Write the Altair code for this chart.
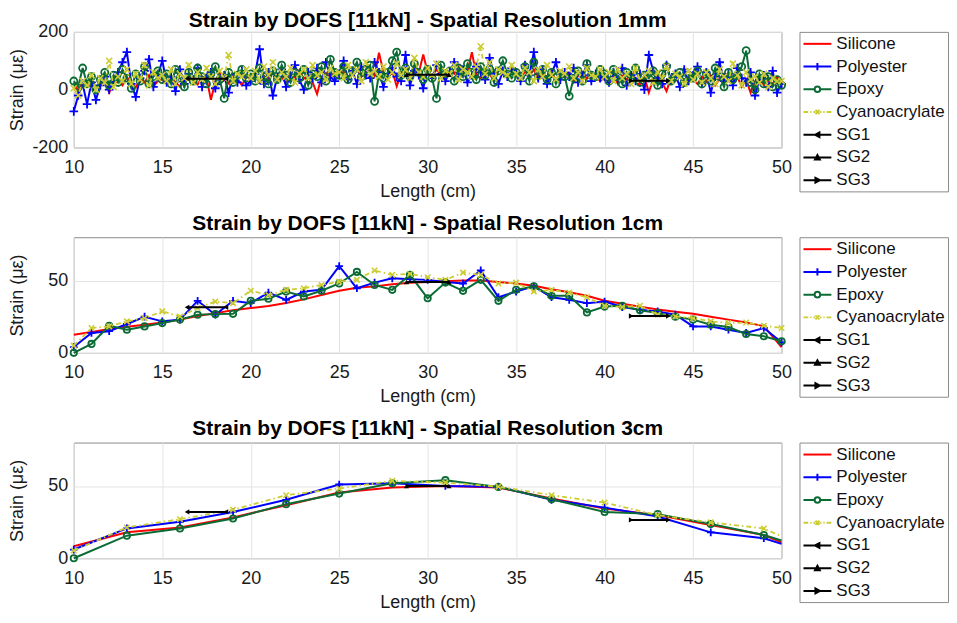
import altair as alt
import pandas as pd

FONT = "Liberation Sans"
SERIES = ["Silicone", "Polyester", "Epoxy", "Cyanoacrylate", "SG1", "SG2", "SG3"]
RED, BLUE, GREEN, YELLOW, BLACK = "#ff0000", "#0000ff", "#0b6b35", "#cccc33", "#000000"
COLORS = [RED, BLUE, GREEN, YELLOW, BLACK, BLACK, BLACK]

# ---------------- 1 mm panel (values read every 2.5 mm) ----------------
len_1mm = [round(10 + 0.25 * i, 2) for i in range(161)]
sil_1mm = [25, -5, 30, 12, 40, 5, 18, 35, -10, 22, 30, 15, 45, 20, 8, 38, 25, 50, 12, 30,
           35, 20, 48, 25, 10, 40, 55, 30, 18, 45, 42, -35, 28, 60, 35, 22, 50, 38, 15, 45,
           40, 55, 25, 48, 35, 62, 30, 45, 20, 55, 42, 68, 38, 50, 25, -15, 45, 58, 40, 62,
           50, 62, 40, 58, 70, 45, 55, 75, 48, 128, 60, 42, 66, 12, 55, 62, 50, 72, 58, 122,
           60, 45, 70, 52, 38, 65, 55, 80, 48, 62, 130, 50, 40, 68, 55, 30, 72, 58, 45, 62,
           55, 40, 62, 48, 70, 35, 52, 45, 65, 30, 50, 42, 58, 25, 48, 60, 38, 52, 45, 30,
           42, 28, 55, 20, 48, 35, 60, 30, 15, 45, -10, 38, 52, 25, -5, 40, 30, 55, 22, 38,
           35, 20, 45, 28, 50, 15, 38, 55, 30, 22, 45, 10, 35, -10, 28, 40, 15, 32, 20, 45,
           25]
pol_1mm = [-75, -20, 20, -50, 25, -35, 15, 45, 0, 30, 60, 95, 130, 20, -25, 40, 65, 105, 10, 50,
           100, 25, 45, -5, 70, 20, 55, 35, 75, 10, 40, 60, 5, 30, 50, -10, 45, 25, 65, 15,
           30, 55, 140, 20, 60, -20, 45, 70, 10, 50, 85, 35, 0, 60, 40, 75, 25, 95, 45, 30,
           55, 100, 35, 65, 20, 80, 50, 40, 95, 60, 10, 55, 75, 45, 30, 120, 15, 65, 50, 5,
           70, 40, 85, 55, 30, 60, 95, 45, 70, 25, 50, 80, 60, 35, 110, 55, 20, 65, 45, 75,
           60, 30, 85, 50, 130, 40, 70, 20, 55, 95, 35, 60, 45, 75, 25, 50, 85, 30, 55, 40,
           45, 25, 60, 35, 75, 15, 50, 30, 55, 0, 120, 65, 40, 20, 85, 35, 55, 10, 70, 30,
           50, 80, 20, 60, -10, 45, 95, 30, 55, 15, 75, 40, 25, 60, -20, 35, 50, 10, 65, -10,
           20]
epo_1mm = [30, 10, 75, 20, 45, 0, 35, 60, 15, 50, 25, 70, 40, 5, 55, 30, 80, 20, 45, 65,
           35, 55, 20, 70, 40, 10, 60, 30, 75, 45, 20, 55, 80, 35, -30, 60, 25, 50, 70, 40,
           55, 30, 75, 45, 20, 65, 35, 85, 50, 25, 60, 40, 70, 15, 55, 45, 80, 30, 105, 60,
           50, 80, 35, 65, 95, 45, 70, 85, -40, 55, 40, 60, 100, 130, 50, 75, 45, 90, 60, 35,
           70, 40, -30, 85, 55, 65, 30, 75, 45, 90, 60, 35, 80, 50, 70, 25, 65, 100, 55, 40,
           60, 45, 80, 30, 95, 50, 70, 35, 60, 20, 55, 45, -22, 40, 65, 30, 90, 50, 45, 70,
           55, 30, 70, 45, 20, 60, 35, 75, 25, 50, 40, 65, 15, 55, 80, 30, 45, 60, 25, 50,
           40, 65, 20, 55, 30, 75, 45, 10, 60, 35, 50, 80, 135, 25, 0, 55, 20, 45, 10, 35,
           15]
cya_1mm = [5, -20, 30, 15, 50, 0, 40, 25, 100, 10, 45, 30, 70, 20, 55, 35, 85, 15, 60, 40,
           50, 30, 70, 20, 55, 40, 85, 25, 60, 35, 75, 45, 20, 65, 40, 120, 30, 55, 45, 70,
           40, 65, 30, 80, 50, 95, 35, 60, 45, 75, 25, 55, 70, 40, 85, 50, 60, 35, 75, 55,
           60, 40, 85, 50, 70, 30, 95, 55, 65, 45, 80, 35, 60, 90, 50, 70, 40, 110, 60, 45,
           75, 50, 90, 40, 65, 55, 85, 35, 70, 60, 45, 80, 150, 55, 95, 40, 70, 60, 50, 85,
           55, 40, 75, 60, 30, 70, 45, 85, 50, 35, 65, 55, 80, 40, 60, 30, 75, 50, 45, 70,
           45, 60, 30, 70, 40, 55, 20, 75, 35, 50, 65, 25, 60, 40, 80, 30, 55, 45, 20, 65,
           35, 55, 25, 60, 40, 20, 70, 45, 30, 90, 50, 15, 60, 35, 45, 25, 55, 10, 40, 30,
           30]

# ---------------- 1 cm panel ----------------
len_1cm = list(range(10, 51))
sil_1cm = [12.5, 14.5, 16.5, 18, 19.5, 21, 23, 25.5, 27.5, 29.5, 31,
           32.5, 34.5, 37, 40, 43, 45, 46, 47.5, 48.5, 49,
           49.5, 50, 50, 49, 48, 46.5, 44, 42, 39.5, 36,
           34, 32, 30, 28.5, 27, 25, 23, 21, 18.5, 4]
pol_1cm = [4, 13.8, 15, 20, 25, 21.8, 23, 36, 26.4, 36, 34.4,
           41.7, 36.7, 42.4, 43.6, 60, 44.7, 48.6, 51.6, 51, 50.5,
           49, 48, 57, 38.5, 42.4, 46, 38.5, 36.7, 34.4, 35.5,
           31.7, 29.8, 28.7, 26.4, 18.3, 18.3, 16, 13.8, 17.2, 7.3]
epo_1cm = [0, 6.2, 18.8, 16, 18.3, 20.6, 23, 26.4, 26.8, 27, 36,
           37.4, 42.4, 39, 43, 48, 56, 47, 43.6, 54, 37.8,
           48.6, 42.9, 50.5, 36, 43.6, 46, 39.5, 39.5, 28, 32,
           32.6, 29.4, 27.5, 25, 23, 19.5, 17.9, 13, 11.5, 8]
cya_1cm = [5, 17.2, 18.3, 21.8, 24, 28.7, 25.2, 31, 35.5, 34.4, 43,
           40, 43.6, 44.7, 47, 49.3, 50.5, 57, 54, 54.6, 52.3,
           50.5, 55.5, 54, 48, 48.6, 42.4, 43.6, 41.7, 38.5, 32.6,
           31.7, 32.6, 26.4, 25.2, 24, 21.8, 20.6, 21, 18.8, 17.2]

# ---------------- 3 cm panel ----------------
len_3cm = [10, 13, 16, 19, 22, 25, 28, 31, 34, 37, 40, 43, 46, 49, 50]
sil_3cm = [8.3, 17.9, 21.3, 28.2, 36.7, 45.4, 48.9, 50, 48.9, 41.3, 34.4, 29.8, 23, 16, 11]
pol_3cm = [6, 20.6, 25.2, 32, 40.4, 51, 51.8, 50, 49.5, 40.4, 35, 28.9, 17.9, 13.8, 9.9]
epo_3cm = [0, 15.6, 20.6, 27.5, 37.4, 44.7, 51.8, 54, 49.3, 40.8, 32, 30.5, 23.6, 16, 12.2]
cya_3cm = [5.3, 21.3, 27, 33.5, 43.6, 48.2, 53.5, 52.3, 49.5, 43.6, 38.5, 29.8, 24.8, 20.6, 15.1]

# ---------------- strain gauges ----------------
sg_names = ["SG1", "SG2", "SG3"]
sg_span = [[16.4, 18.6], [28.8, 31.2], [41.5, 43.6]]
sg_1mm = [38, 52, 31]
sg_1cm = [31.5, 49, 25.5]
sg_3cm = [32, 50, 26.5]
sg_shapes = ["triangle-left", "triangle-up", "triangle-right"]

# legend glyphs (line + marker), custom SVG paths
LEG_PATHS = [
    "M-1,0H2.5",
    "M-1,0H2.5M0.75,-0.45V0.45",
    "M-1,0H0.4M1.1,0H2.5M0.4,0A0.35,0.35 0 1,0 1.1,0A0.35,0.35 0 1,0 0.4,0",
    "M-1,0H-0.4M-0.15,0H0M0.25,0H0.45M0.5,-0.25L1,0.25M0.5,0.25L1,-0.25M1.05,0H1.25M1.5,0H1.65M1.9,0H2.5",
    "M-1,0H2.5M0.45,0L1.0,-0.3L1.0,0.3Z",
    "M-1,0H2.5M0.45,0.25L0.75,-0.3L1.05,0.25Z",
    "M-1,0H2.5M1.05,0L0.5,-0.3L0.5,0.3Z",
]
PLUS = "M-1,0H1M0,-1V1"
XMARK = "M-1,-1L1,1M-1,1L1,-1"


def panel(length, sil, pol, epo, cya, sg_vals, title, ydom, yticks, marker_max,
          title_offset, msize):
    rows = []
    for name, vals in [("Silicone", sil), ("Polyester", pol), ("Epoxy", epo), ("Cyanoacrylate", cya)]:
        assert len(vals) == len(length), name
        rows += [{"series": name, "x": xv, "y": yv} for xv, yv in zip(length, vals)]
    for name, xs, v in zip(sg_names, sg_span, sg_vals):
        rows += [{"series": name, "x": xv, "y": v} for xv in xs]
    df = pd.DataFrame(rows)
    base = alt.Chart(df)

    x = alt.X("x:Q", scale=alt.Scale(domain=[10, 50], nice=False, zero=False),
              axis=alt.Axis(values=list(range(10, 51, 5)), title="Length (cm)",
                            labelPadding=11, titleY=35, titleBaseline="top"))
    y = alt.Y("y:Q", scale=alt.Scale(domain=ydom, nice=False, zero=False),
              axis=alt.Axis(values=yticks, title="Strain (με)", labelPadding=6,
                            labelExpr="'' + datum.value",
                            titleX=-56, titleY=58, titleAngle=270,
                            titleAlign="center", titleBaseline="middle"))

    def sel(name):
        return base.transform_filter(alt.datum.series == name)

    def marks(name, shape, size, color, sw):
        return sel(name).transform_filter(alt.datum.x <= marker_max).mark_point(
            shape=shape, size=size * msize, filled=False, color=color, strokeWidth=sw, opacity=1
        ).encode(x=x, y=y)

    layers = [
        sel("Silicone").mark_line(color=RED, strokeWidth=2).encode(x=x, y=y),
        sel("Polyester").mark_line(color=BLUE, strokeWidth=2).encode(x=x, y=y),
        marks("Polyester", PLUS, 60, BLUE, 1.8),
        sel("Epoxy").mark_line(color=GREEN, strokeWidth=2).encode(x=x, y=y),
        marks("Epoxy", "circle", 40, GREEN, 1.8),
        sel("Cyanoacrylate").mark_line(color=YELLOW, strokeWidth=1.8,
                                       strokeDash=[5, 3, 1.5, 3]).encode(x=x, y=y),
        marks("Cyanoacrylate", XMARK, 30, YELLOW, 1.6),
    ]
    for name, shp in zip(sg_names, sg_shapes):
        layers.append(sel(name).mark_line(color=BLACK, strokeWidth=2).encode(x=x, y=y))
        layers.append(sel(name).mark_point(shape=shp, size=28, filled=True, color=BLACK,
                                           opacity=1).encode(x=x, y=y))

    leg_df = pd.DataFrame({"series": SERIES, "y": [None] * len(SERIES)})
    legend_layer = alt.Chart(leg_df).transform_filter("isValid(datum.y)").mark_point(
        filled=False, opacity=1, size=256, strokeWidth=2
    ).encode(
        color=alt.Color("series:N", scale=alt.Scale(domain=SERIES, range=COLORS),
                        legend=alt.Legend(title=None)),
        shape=alt.Shape("series:N", scale=alt.Scale(domain=SERIES, range=LEG_PATHS),
                        legend=alt.Legend(title=None)),
    )
    layers.append(legend_layer)

    return alt.layer(*layers).properties(
        width=710, height=116,
        title=alt.TitleParams(title, fontSize=21, fontWeight="bold", font=FONT,
                              anchor="middle", frame="group", offset=title_offset,
                              color="#000"),
    )


p1 = panel(len_1mm, sil_1mm, pol_1mm, epo_1mm, cya_1mm, sg_1mm,
           "Strain by DOFS [11kN] - Spatial Resolution 1mm", [-200, 200], [-200, 0, 200], 100,
           -8, 1.25)
p2 = panel(len_1cm, sil_1cm, pol_1cm, epo_1cm, cya_1cm, sg_1cm,
           "Strain by DOFS [11kN] - Spatial Resolution 1cm", [0, 80], [0, 50], 100, 3, 1.0)
p3 = panel(len_3cm, sil_3cm, pol_3cm, epo_3cm, cya_3cm, sg_3cm,
           "Strain by DOFS [11kN] - Spatial Resolution 3cm", [0, 80], [0, 50], 49, 3, 1.0)

chart = alt.vconcat(p1, p2, p3, spacing=11).resolve_scale(
    y="independent", color="independent", shape="independent"
).resolve_legend(color="independent", shape="independent").properties(
    padding={"left": 0, "top": 0, "right": 0, "bottom": 0}
).configure_view(
    stroke="#8c8c8c", strokeWidth=1
).configure_axis(
    labelFont=FONT, titleFont=FONT, labelFontSize=18, titleFontSize=18,
    labelColor="#1a1a1a", titleColor="#1a1a1a", titleFontWeight="normal",
    domain=False, ticks=False, grid=True, gridColor="#e3e3e3", gridWidth=1,
    labelFlush=False,
).configure_legend(
    orient="right", offset=18, padding=3, strokeColor="#8c8c8c", fillColor="white",
    labelFont=FONT, labelFontSize=17, labelColor="#111", symbolSize=256,
    symbolStrokeWidth=2, rowPadding=5.8, labelOffset=16, cornerRadius=0,
)

chart.save("out.html", embed_options={"renderer": "svg", "actions": False})
